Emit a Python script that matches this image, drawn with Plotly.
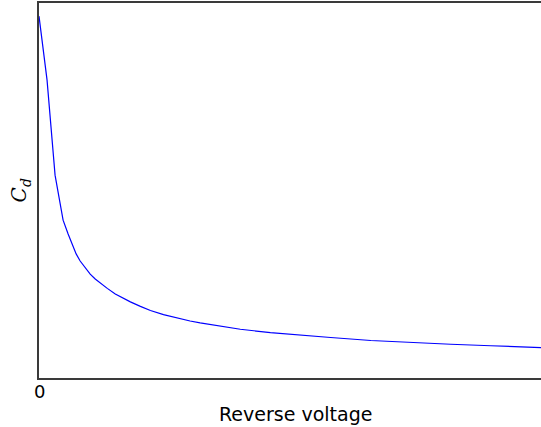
import plotly.graph_objects as go

# Diode junction capacitance versus reverse bias (arbitrary units)
reverse_voltage = [0, 0.16, 0.32, 0.48, 0.58, 0.66, 0.74, 0.82, 0.92, 1.02,
                   1.12, 1.22, 1.36, 1.52, 1.68, 1.82, 2.02, 2.22, 2.48, 2.71,
                   3.01, 3.21, 3.61, 4.01, 4.61, 5.21, 5.81, 6.61, 7.41, 8.20,
                   9.00, 10.0]
capacitance = [0.965, 0.795, 0.541, 0.421, 0.384, 0.355, 0.331, 0.312, 0.293, 0.277,
               0.264, 0.253, 0.239, 0.224, 0.212, 0.203, 0.191, 0.180, 0.169, 0.161,
               0.152, 0.147, 0.138, 0.130, 0.121, 0.114, 0.108, 0.100, 0.094, 0.090,
               0.086, 0.081]
x_tick_values = [0]
x_tick_labels = ["0"]

fig = go.Figure()
fig.add_trace(go.Scatter(
    x=reverse_voltage, y=capacitance, mode="lines",
    line=dict(color="#0000ff", width=1.2), hoverinfo="skip",
))

axis_color = "#3a3a3a"

# x tick labels placed just under the axis line
tick_annotations = [
    dict(text=label, x=value, xref="x", y=-0.036, yref="paper",
         xanchor="center", yanchor="middle", showarrow=False,
         font=dict(size=18, family="DejaVu Sans"))
    for value, label in zip(x_tick_values, x_tick_labels)
]

fig.update_layout(
    width=541, height=427,
    margin=dict(l=39, r=0, t=3, b=49),
    paper_bgcolor="white", plot_bgcolor="white",
    showlegend=False,
    font=dict(family="DejaVu Sans", color="black"),
    xaxis=dict(range=[0, 10], showgrid=False, zeroline=False,
               showline=True, linecolor=axis_color, linewidth=1.5, mirror=True,
               showticklabels=False, ticks=""),
    yaxis=dict(range=[0, 1], showgrid=False, zeroline=False,
               showline=True, linecolor=axis_color, linewidth=1.5, mirror=False,
               showticklabels=False, ticks=""),
    annotations=tick_annotations + [
        dict(text="Reverse voltage", xref="paper", yref="paper",
             x=0.51, y=-0.062, xanchor="center", yanchor="top", showarrow=False,
             font=dict(size=19, family="DejaVu Sans")),
        dict(text="<i>C</i><sub><i>d</i></sub>", xref="paper", yref="paper",
             x=-0.038, y=0.5, xanchor="center", yanchor="middle", showarrow=False,
             textangle=-90, font=dict(size=20, family="DejaVu Serif")),
    ],
)

fig.write_html("out.html")
